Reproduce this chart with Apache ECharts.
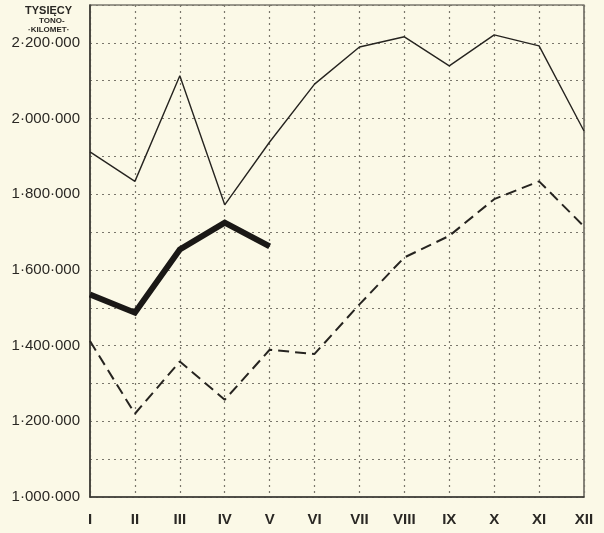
<!DOCTYPE html>
<html><head><meta charset="utf-8">
<script src="https://cdn.jsdelivr.net/npm/echarts@6/dist/echarts.min.js"></script>
<style>html,body{margin:0;padding:0;background:#fbf9e7;}#c{width:604px;height:533px;}</style>
</head><body><div id="c"></div>
<script>
const months = ['I','II','III','IV','V','VI','VII','VIII','IX','X','XI','XII'];
const upperSeries = [1912000,1834000,2113000,1772000,1938000,2091000,2189000,2216000,2139000,2221000,2192000,1967000];
const thickSeries = [1535000,1487000,1654000,1725000,1662000,null,null,null,null,null,null,null];
const dashedSeries = [1412000,1220000,1358000,1257000,1389000,1378000,1509000,1633000,1690000,1787000,1834000,1715000];
const yMin = 1000000, yMax = 2300000, yStep = 100000;
const titleLines = ['TYSIĘCY','TONO-','·KILOMET·'];

function fmt(v){
  if ((v/yStep) % 2 !== 0) return '';
  const s = String(v);
  return s.replace(/\B(?=(\d{3})+(?!\d))/g,'·');
}

const chart = echarts.init(document.getElementById('c'));
const ink = '#262420';
chart.setOption({
  backgroundColor: '#fbf9e7',
  animation: false,
  grid: {left: 90, right: 20, top: 5, bottom: 36, show: true, borderColor: '#3a3833', borderWidth: 1.2, backgroundColor: 'transparent'},
  xAxis: {
    type: 'category', data: months, boundaryGap: false,
    axisLine: {show: true, lineStyle: {color: '#3a3833', width: 1.5}},
    axisTick: {show: false},
    axisLabel: {color: '#2a2824', fontSize: 15, fontWeight: 'bold', fontFamily: 'Liberation Sans Narrow, Liberation Sans, Arial', margin: 15},
    splitLine: {show: true, lineStyle: {color: '#7a776c', type: [2,4], width: 1.2}}
  },
  yAxis: {
    type: 'value', min: yMin, max: yMax, interval: yStep,
    axisLine: {show: true, lineStyle: {color: '#3a3833', width: 1.5}},
    axisTick: {show: false},
    axisLabel: {color: '#2a2824', fontSize: 15, fontFamily: 'Liberation Sans, Arial', margin: 10, formatter: fmt},
    splitLine: {show: true, lineStyle: {color: '#7a776c', type: [2,4], width: 1.2}}
  },
  graphic: [
    {type:'text', left: 25, top: 5, style:{text: titleLines[0], font:'bold 11px Liberation Sans, Arial', fill:'#2a2824'}},
    {type:'text', left: 39, top: 17, style:{text: titleLines[1], font:'bold 8px Liberation Sans, Arial', fill:'#2a2824'}},
    {type:'text', left: 28, top: 26, style:{text: titleLines[2], font:'bold 8px Liberation Sans, Arial', fill:'#2a2824'}}
  ],
  series: [
    {type:'line', data: upperSeries, symbol:'none', lineStyle:{color: ink, width: 1.4}},
    {type:'line', data: thickSeries, symbol:'none', connectNulls:false, lineStyle:{color: '#1a1816', width: 6, cap:'butt', join:'miter'}},
    {type:'line', data: dashedSeries, symbol:'none', lineStyle:{color: ink, width: 2, type:[11,6]}}
  ]
});
</script></body></html>
